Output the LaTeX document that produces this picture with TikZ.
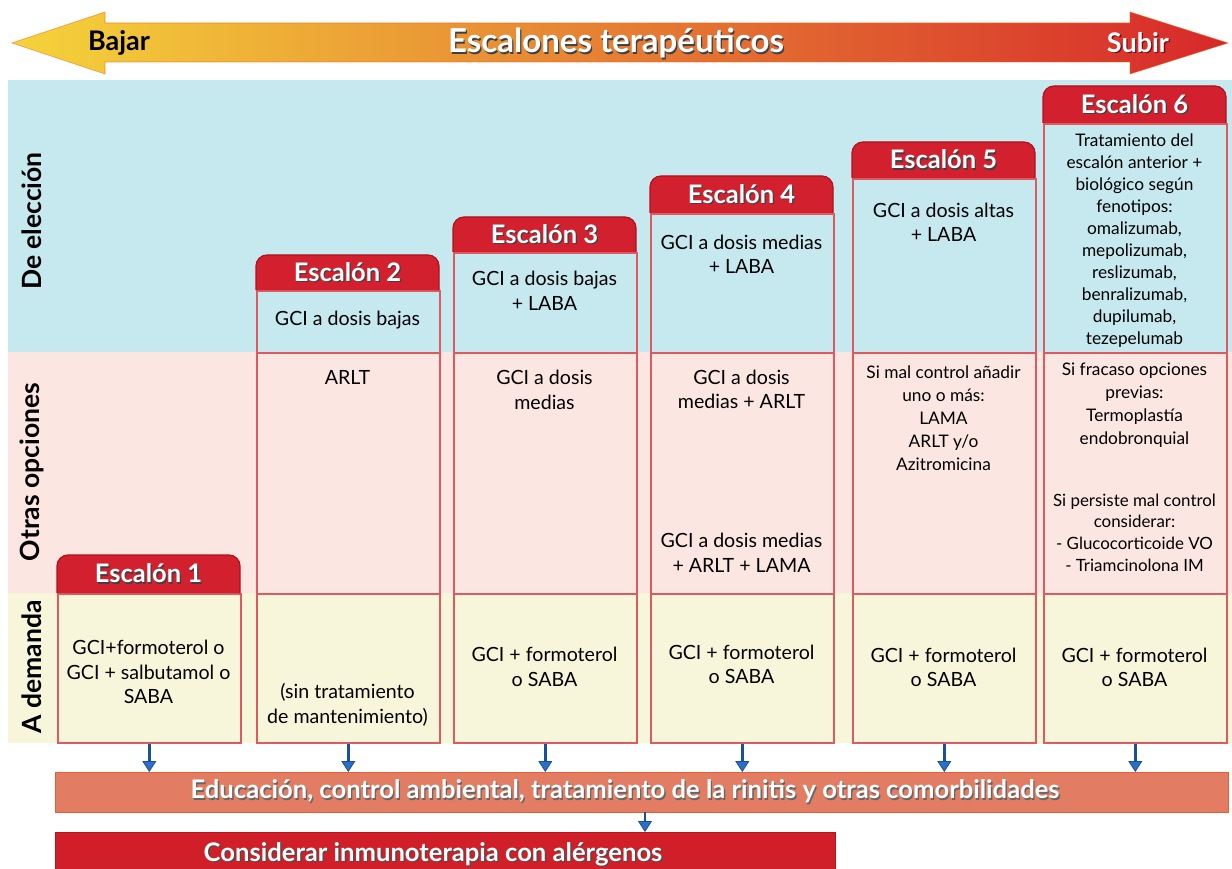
\documentclass[tikz,border=0pt]{standalone}
\usepackage{fontspec}
\setmainfont{Lato}
\usetikzlibrary{arrows.meta}

\definecolor{bandblue}{HTML}{C6E9F0}
\definecolor{bandpink}{HTML}{FCE6E2}
\definecolor{bandyellow}{HTML}{F8F6DA}
\definecolor{cellline}{HTML}{DD5A60}
\definecolor{headred}{HTML}{D2202F}
\definecolor{headedge}{HTML}{B0121E}
\definecolor{arrowline}{HTML}{1A4F9C}
\definecolor{arrowfill}{HTML}{2A6FC8}
\definecolor{edufill}{HTML}{E27C62}
\definecolor{eduedge}{HTML}{E5602F}
\definecolor{inmfill}{HTML}{D01F28}
\definecolor{inmedge}{HTML}{B5151D}
\definecolor{topyellow}{HTML}{F4D43A}
\definecolor{toporange}{HTML}{E8872B}
\definecolor{topred}{HTML}{D7282B}

% white lettering with a soft dark drop shadow
\newcommand\shadowed[2][black!75]{{\leavevmode\rlap{\kern1.3pt\raisebox{-1.3pt}{\textcolor{#1}{#2}}}#2}}

\tikzset{
  cell/.style={draw=cellline, line width=1.6pt, minimum width=183pt, anchor=north west, inner sep=0pt},
  txt/.style={align=center, text=black, inner sep=0pt, font=\fontsize{19.6}{24.5}\selectfont},
  smalltxt/.style={txt, font=\fontsize{17.3}{23}\selectfont},
  headtext/.style={text=white, inner sep=0pt, font=\bfseries\fontsize{25.5}{25.5}\selectfont},
  rowlabel/.style={rotate=90, inner sep=0pt, font=\bfseries\fontsize{26.5}{26.5}\selectfont},
  bartext/.style={text=white, inner sep=0pt, font=\bfseries\fontsize{25.6}{25.6}\selectfont},
  downarrow/.style={draw=arrowline, line width=2.4pt,
    -{Triangle[width=14pt,length=11pt,fill=arrowfill,line width=0.8pt]}},
}

% rounded red tab on top of each step column
\newcommand\stepheader[5]{%
  \fill[headred,rounded corners=11pt] (#2,#4) -- (#2,#3) -- (#2+183,#3) -- (#2+183,#4);
  \draw[headedge,line width=1.2pt,rounded corners=11pt] (#2,#4) -- (#2,#3) -- (#2+183,#3) -- (#2+183,#4);
  \node[headtext] (#1) at (#2+91.5,{(#3+#4)/2}) {\shadowed{#5}};}

\begin{document}
\begin{tikzpicture}[x=1pt,y=-1pt]
\useasboundingbox (0,0) rectangle (1232,869);
\clip (0,0) rectangle (1232,869);
\fill[white] (0,0) rectangle (1232,869);

% double-headed arrow of the therapeutic steps
\shade[left color=topyellow, middle color=toporange, right color=topred]
  (12,43) -- (105,12) -- (105,23) -- (1130,23) -- (1130,12) -- (1228,43)
  -- (1130,74) -- (1130,62) -- (105,62) -- (105,74) -- cycle;
\draw[orange!70!red, line width=0.6pt, opacity=0.6]
  (12,43) -- (105,12) -- (105,23) -- (1130,23) -- (1130,12) -- (1228,43)
  -- (1130,74) -- (1130,62) -- (105,62) -- (105,74) -- cycle;
\node[font=\bfseries\fontsize{27}{27}\selectfont, text=black] (bajar) at (119,43) {Bajar};
\node[font=\bfseries\fontsize{33}{33}\selectfont, text=white] (title) at (616,44) {\shadowed{Escalones terapéuticos}};
\node[font=\bfseries\fontsize{27}{27}\selectfont, text=white] (subir) at (1138,43) {\shadowed[headedge!70!black]{Subir}};

% row bands
\fill[bandblue] (8,80) rectangle (1232,352);
\fill[bandpink] (8,352) rectangle (1232,593);
\fill[bandyellow] (8,593) rectangle (1232,743);

\node[rowlabel] (lab1) at (32,221) {De elección};
\node[rowlabel] (lab2) at (32,472) {Otras opciones};
\node[rowlabel] (lab3) at (32,667) {A demanda};

% column cells
\node[cell, fill=bandyellow, minimum height=149pt] (y1) at (57,593) {};

\node[cell, fill=bandblue, minimum height=62pt] (b2) at (256,290) {};
\node[cell, fill=bandpink, minimum height=241pt] (p2) at (256,352) {};
\node[cell, fill=bandyellow, minimum height=149pt] (y2) at (256,593) {};

\node[cell, fill=bandblue, minimum height=100pt] (b3) at (453,252) {};
\node[cell, fill=bandpink, minimum height=241pt] (p3) at (453,352) {};
\node[cell, fill=bandyellow, minimum height=149pt] (y3) at (453,593) {};

\node[cell, fill=bandblue, minimum height=139pt] (b4) at (650,213) {};
\node[cell, fill=bandpink, minimum height=241pt] (p4) at (650,352) {};
\node[cell, fill=bandyellow, minimum height=149pt] (y4) at (650,593) {};

\node[cell, fill=bandblue, minimum height=174pt] (b5) at (852,178) {};
\node[cell, fill=bandpink, minimum height=241pt] (p5) at (852,352) {};
\node[cell, fill=bandyellow, minimum height=149pt] (y5) at (852,593) {};

\node[cell, fill=bandblue, minimum height=229pt] (b6) at (1043,123) {};
\node[cell, fill=bandpink, minimum height=241pt] (p6) at (1043,352) {};
\node[cell, fill=bandyellow, minimum height=149pt] (y6) at (1043,593) {};

% step tabs
\stepheader{h1}{57}{555}{593}{Escalón 1}
\stepheader{h2}{256}{255}{290}{Escalón 2}
\stepheader{h3}{453}{217}{252}{Escalón 3}
\stepheader{h4}{650}{176}{213}{Escalón 4}
\stepheader{h5}{852}{142}{178}{Escalón 5}
\stepheader{h6}{1043}{86}{123}{Escalón 6}

% step 1
\node[txt] (t1y) at (148.5,672) {GCI+formoterol o\\GCI + salbutamol o\\SABA};
% step 2
\node[txt] (t2b) at (347.5,320) {GCI a dosis bajas};
\node[txt] (t2p) at (347.5,377) {ARLT};
\node[txt] (t2y) at (347.5,705) {(sin tratamiento\\de mantenimiento)};
% step 3
\node[txt] (t3b) at (544.5,291) {GCI a dosis bajas\\+ LABA};
\node[txt] (t3p) at (544.5,390) {GCI a dosis\\medias};
\node[txt] (t3y) at (544.5,667) {GCI + formoterol\\o SABA};
% step 4
\node[txt] (t4b) at (741.5,254.5) {GCI a dosis medias\\+ LABA};
\node[txt] (t4p) at (741.5,389.5) {GCI a dosis\\medias + ARLT};
\node[txt] (t4q) at (741.5,553) {GCI a dosis medias\\+ ARLT + LAMA};
\node[txt] (t4y) at (741.5,664.5) {GCI + formoterol\\o SABA};
% step 5
\node[txt] (t5b) at (943.5,222.5) {GCI a dosis altas\\+ LABA};
\node[smalltxt] (t5p) at (943.5,418.5) {Si mal control añadir\\uno o más:\\LAMA\\ARLT y/o\\Azitromicina};
\node[txt] (t5y) at (943.5,667.5) {GCI + formoterol\\o SABA};
% step 6
\node[smalltxt, font=\fontsize{17.3}{22}\selectfont] (t6b) at (1134.5,241)
  {Tratamiento del\\escalón anterior +\\biológico según\\fenotipos:\\omalizumab,\\mepolizumab,\\reslizumab,\\benralizumab,\\dupilumab,\\tezepelumab};
\node[smalltxt] (t6p) at (1134.5,405.5) {Si fracaso opciones\\previas:\\Termoplastía\\endobronquial};
\node[smalltxt, font=\fontsize{16.9}{21.7}\selectfont] (t6q) at (1134.5,532.5)
  {Si persiste mal control\\considerar:\\- Glucocorticoide VO\\- Triamcinolona IM};
\node[txt] (t6y) at (1134.5,667.5) {GCI + formoterol\\o SABA};

% common measures bar
\node[draw=eduedge, line width=1.4pt, fill=edufill, minimum width=1173pt, minimum height=40pt,
      anchor=north west, inner sep=0pt] (edu) at (55,772) {};
\node[bartext] (edutext) at (625,792)
  {\shadowed[black!60]{Educación, control ambiental, tratamiento de la rinitis y otras comorbilidades}};

% immunotherapy bar
\node[draw=inmedge, line width=1.4pt, fill=inmfill, minimum width=780pt, minimum height=44pt,
      anchor=north west, inner sep=0pt] (inm) at (55,832) {};
\node[bartext] (inmtext) at (433,855) {\shadowed[black!70]{Considerar inmunoterapia con alérgenos}};

% connectors
\foreach \c in {y1,y2,y3,y4,y5,y6}
  \draw[downarrow] (\c.south) -- (\c.south |- edu.north);
\coordinate (eduout) at (645,812);
\draw[downarrow] (eduout) -- (eduout |- inm.north);
\end{tikzpicture}
\end{document}
